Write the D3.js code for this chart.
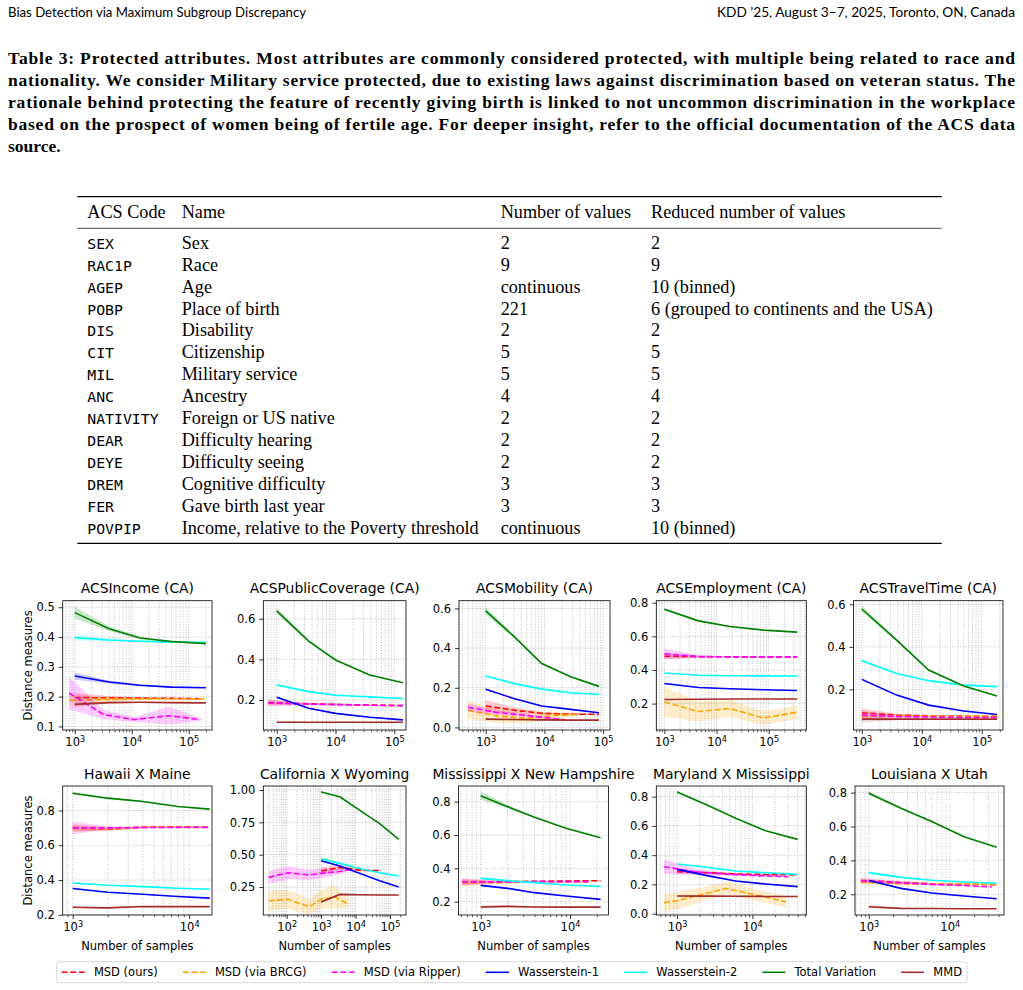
<!DOCTYPE html>
<html>
<head>
<meta charset="utf-8">
<script src="https://cdn.jsdelivr.net/npm/d3@7"></script>
<style>
  body { margin: 0; background: #fff; }
  svg { display: block; }
</style>
</head>
<body>
<svg id="page" width="1023" height="990"></svg>
<script>
// ---- page text ----
var runningLeft = "Bias Detection via Maximum Subgroup Discrepancy";
var runningRight = "KDD \u201925, August 3\u20137, 2025, Toronto, ON, Canada";

var captionLines = [
  "Table 3: Protected attributes. Most attributes are commonly considered protected, with multiple being related to race and",
  "nationality. We consider Military service protected, due to existing laws against discrimination based on veteran status. The",
  "rationale behind protecting the feature of recently giving birth is linked to not uncommon discrimination in the workplace",
  "based on the prospect of women being of fertile age. For deeper insight, refer to the official documentation of the ACS data",
  "source."
];

// ---- table ----
var tableHeader = ["ACS Code", "Name", "Number of values", "Reduced number of values"];
var acsCodes = ["SEX", "RAC1P", "AGEP", "POBP", "DIS", "CIT", "MIL", "ANC", "NATIVITY", "DEAR", "DEYE", "DREM", "FER", "POVPIP"];
var acsNames = ["Sex", "Race", "Age", "Place of birth", "Disability", "Citizenship", "Military service", "Ancestry",
  "Foreign or US native", "Difficulty hearing", "Difficulty seeing", "Cognitive difficulty", "Gave birth last year",
  "Income, relative to the Poverty threshold"];
var numValues = ["2", "9", "continuous", "221", "2", "5", "5", "4", "2", "2", "2", "3", "3", "continuous"];
var reducedValues = ["2", "9", "10 (binned)", "6 (grouped to continents and the USA)", "2", "5", "5", "4", "2", "2", "2", "3", "3", "10 (binned)"];

// ---- chart legend ----
var methods = ["msd", "brcg", "ripper", "w1", "w2", "tv", "mmd"];
var methodLabels = ["MSD (ours)", "MSD (via BRCG)", "MSD (via Ripper)", "Wasserstein-1", "Wasserstein-2", "Total Variation", "MMD"];
var methodColors = ["red", "orange", "magenta", "blue", "cyan", "green", "brown"];
var methodDashed = [true, true, true, false, false, false, false];

var panelTitles = ["ACSIncome (CA)", "ACSPublicCoverage (CA)", "ACSMobility (CA)", "ACSEmployment (CA)", "ACSTravelTime (CA)",
  "Hawaii X Maine", "California X Wyoming", "Mississippi X New Hampshire", "Maryland X Mississippi", "Louisiana X Utah"];

var yTickValues = [
  [0.1, 0.2, 0.3, 0.4, 0.5], [0.2, 0.4, 0.6], [0.0, 0.2, 0.4, 0.6], [0.2, 0.4, 0.6, 0.8], [0.2, 0.4, 0.6],
  [0.2, 0.4, 0.6, 0.8], [0.25, 0.5, 0.75, 1.0], [0.2, 0.4, 0.6, 0.8], [0.0, 0.2, 0.4, 0.6, 0.8], [0.2, 0.4, 0.6, 0.8]
];
var yTickFormats = [".1f", ".1f", ".1f", ".1f", ".1f", ".1f", ".2f", ".1f", ".1f", ".1f"];

// each row: method, number of samples, mean distance, half width of the shaded band
var incomeCA = [
  ["msd",    [1000, 4000, 14000, 50000, 180000], [0.197, 0.196, 0.195, 0.194, 0.193], [0.015, 0.006, 0.003, 0.002, 0.001]],
  ["brcg",   [800, 3200, 11000, 45000, 200000],  [0.188, 0.190, 0.192, 0.193, 0.193], [0.020, 0.010, 0.005, 0.003, 0.002]],
  ["ripper", [800, 3200, 11000, 45000, 160000],  [0.212, 0.140, 0.123, 0.136, 0.123], [0.055, 0.015, 0.008, 0.030, 0.005]],
  ["w1",     [1000, 4000, 14000, 50000, 200000], [0.269, 0.249, 0.238, 0.232, 0.230], [0.012, 0.005, 0.003, 0.002, 0.001]],
  ["w2",     [1000, 4000, 14000, 50000, 200000], [0.398, 0.390, 0.386, 0.383, 0.382], [0.010, 0.004, 0.002, 0.002, 0.001]],
  ["tv",     [1000, 4000, 14000, 50000, 200000], [0.482, 0.428, 0.397, 0.385, 0.378], [0.020, 0.008, 0.004, 0.003, 0.002]],
  ["mmd",    [1000, 4000, 14000, 50000, 200000], [0.174, 0.180, 0.181, 0.180, 0.179], [0.008, 0.004, 0.002, 0.002, 0.001]]
];
var publicCoverageCA = [
  ["msd",    [720, 2500, 10000, 38000, 140000],  [0.187, 0.182, 0.178, 0.175, 0.172], [0.015, 0.006, 0.004, 0.002, 0.001]],
  ["ripper", [720, 2500, 10000, 38000, 140000],  [0.185, 0.180, 0.177, 0.174, 0.172], [0.015, 0.006, 0.004, 0.002, 0.001]],
  ["w1",     [1000, 3500, 10000, 38000, 140000], [0.213, 0.159, 0.134, 0.115, 0.102], [0.006, 0.003, 0.002, 0.001, 0.001]],
  ["w2",     [1000, 3500, 10000, 38000, 140000], [0.274, 0.241, 0.223, 0.215, 0.207], [0.005, 0.003, 0.002, 0.001, 0.001]],
  ["tv",     [1000, 3500, 10000, 38000, 140000], [0.639, 0.490, 0.397, 0.323, 0.285], [0.015, 0.006, 0.004, 0.003, 0.002]],
  ["mmd",    [1000, 3500, 10000, 38000, 140000], [0.090, 0.090, 0.090, 0.090, 0.090], [0.004, 0.002, 0.001, 0.001, 0.001]]
];
var mobilityCA = [
  ["msd",    [1000, 3000, 9000, 28000, 85000],   [0.108, 0.087, 0.071, 0.067, 0.066], [0.030, 0.015, 0.008, 0.005, 0.003]],
  ["brcg",   [500, 1500, 5000, 15000, 40000],    [0.087, 0.058, 0.045, 0.060, 0.066], [0.045, 0.035, 0.025, 0.015, 0.008]],
  ["ripper", [500, 1500, 5000, 22000],           [0.102, 0.076, 0.060, 0.038], [0.020, 0.012, 0.008, 0.005]],
  ["w1",     [1000, 3000, 9000, 28000, 85000],   [0.193, 0.146, 0.108, 0.091, 0.074], [0.005, 0.003, 0.002, 0.001, 0.001]],
  ["w2",     [1000, 3000, 9000, 28000, 85000],   [0.259, 0.222, 0.193, 0.175, 0.166], [0.005, 0.003, 0.002, 0.001, 0.001]],
  ["tv",     [1000, 3000, 9000, 28000, 85000],   [0.588, 0.460, 0.322, 0.255, 0.207], [0.020, 0.006, 0.004, 0.003, 0.002]],
  ["mmd",    [1000, 3000, 9000, 28000, 85000],   [0.042, 0.040, 0.038, 0.037, 0.037], [0.006, 0.003, 0.002, 0.001, 0.001]]
];
var employmentCA = [
  ["msd",    [1000, 4500, 18000, 80000, 350000], [0.482, 0.479, 0.478, 0.478, 0.478], [0.020, 0.006, 0.003, 0.002, 0.001]],
  ["brcg",   [1000, 4500, 18000, 80000, 350000], [0.210, 0.153, 0.171, 0.114, 0.149], [0.090, 0.060, 0.050, 0.040, 0.040]],
  ["ripper", [1000, 4500, 18000, 80000, 350000], [0.496, 0.480, 0.478, 0.478, 0.478], [0.030, 0.008, 0.003, 0.002, 0.001]],
  ["w1",     [1000, 4500, 18000, 80000, 350000], [0.320, 0.296, 0.288, 0.282, 0.278], [0.004, 0.002, 0.001, 0.001, 0.001]],
  ["w2",     [1000, 4500, 18000, 80000, 350000], [0.382, 0.369, 0.366, 0.365, 0.364], [0.004, 0.002, 0.001, 0.001, 0.001]],
  ["tv",     [1000, 4500, 18000, 80000, 350000], [0.761, 0.692, 0.659, 0.637, 0.625], [0.008, 0.004, 0.002, 0.001, 0.001]],
  ["mmd",    [1000, 4500, 18000, 80000, 350000], [0.224, 0.226, 0.227, 0.227, 0.227], [0.004, 0.002, 0.001, 0.001, 0.001]]
];
var travelTimeCA = [
  ["msd",    [1000, 3800, 13000, 50000, 180000], [0.090, 0.079, 0.076, 0.074, 0.073], [0.020, 0.006, 0.003, 0.002, 0.001]],
  ["brcg",   [1000, 3800, 13000, 50000, 180000], [0.075, 0.074, 0.074, 0.075, 0.075], [0.020, 0.006, 0.003, 0.002, 0.001]],
  ["ripper", [1000, 3800, 13000, 50000, 180000], [0.080, 0.072, 0.070, 0.068, 0.068], [0.020, 0.006, 0.003, 0.002, 0.001]],
  ["w1",     [1000, 3800, 13000, 50000, 180000], [0.247, 0.173, 0.126, 0.098, 0.082], [0.006, 0.003, 0.002, 0.001, 0.001]],
  ["w2",     [1000, 3800, 13000, 50000, 180000], [0.335, 0.275, 0.241, 0.220, 0.213], [0.005, 0.003, 0.002, 0.001, 0.001]],
  ["tv",     [1000, 3800, 13000, 50000, 180000], [0.578, 0.432, 0.291, 0.216, 0.169], [0.015, 0.006, 0.004, 0.002, 0.002]],
  ["mmd",    [1000, 3800, 13000, 50000, 180000], [0.060, 0.060, 0.060, 0.060, 0.060], [0.015, 0.005, 0.002, 0.001, 0.001]]
];
var hawaiiMaine = [
  ["msd",    [1000, 2000, 4000, 8000, 15000], [0.699, 0.693, 0.704, 0.706, 0.705], [0.020, 0.010, 0.005, 0.003, 0.002]],
  ["brcg",   [1000, 2000, 4000, 8000, 15000], [0.698, 0.695, 0.703, 0.705, 0.705], [0.020, 0.010, 0.005, 0.003, 0.002]],
  ["ripper", [1000, 2000, 4000, 8000, 15000], [0.700, 0.700, 0.702, 0.703, 0.703], [0.035, 0.010, 0.005, 0.003, 0.002]],
  ["w1",     [1000, 2000, 4000, 8000, 15000], [0.351, 0.330, 0.318, 0.305, 0.296], [0.004, 0.003, 0.002, 0.001, 0.001]],
  ["w2",     [1000, 2000, 4000, 8000, 15000], [0.383, 0.370, 0.362, 0.353, 0.347], [0.004, 0.003, 0.002, 0.001, 0.001]],
  ["tv",     [1000, 2000, 4000, 8000, 15000], [0.899, 0.871, 0.852, 0.823, 0.808], [0.008, 0.006, 0.004, 0.002, 0.002]],
  ["mmd",    [1000, 2000, 4000, 8000, 15000], [0.244, 0.240, 0.248, 0.247, 0.247], [0.004, 0.003, 0.002, 0.001, 0.001]]
];
var californiaWyoming = [
  ["msd",    [1000, 3500, 13000, 55000],           [0.374, 0.402, 0.381, 0.376], [0.030, 0.020, 0.010, 0.005]],
  ["brcg",   [30, 110, 450, 1000, 2500, 6000],     [0.144, 0.155, 0.098, 0.155, 0.175, 0.119], [0.080, 0.070, 0.060, 0.070, 0.090, 0.030]],
  ["ripper", [30, 110, 450, 1000, 3500, 7000],     [0.325, 0.360, 0.343, 0.356, 0.370, 0.386], [0.050, 0.050, 0.040, 0.040, 0.020, 0.010]],
  ["w1",     [1000, 3500, 13000, 50000, 180000],   [0.454, 0.412, 0.356, 0.299, 0.250], [0.006, 0.004, 0.003, 0.002, 0.001]],
  ["w2",     [1000, 3500, 13000, 50000, 180000],   [0.469, 0.433, 0.394, 0.361, 0.335], [0.006, 0.004, 0.003, 0.002, 0.001]],
  ["tv",     [1000, 3500, 13000, 50000, 180000],   [0.984, 0.948, 0.845, 0.740, 0.619], [0.006, 0.004, 0.003, 0.002, 0.001]],
  ["mmd",    [1000, 3500, 13000, 50000, 180000],   [0.134, 0.193, 0.190, 0.189, 0.188], [0.006, 0.004, 0.002, 0.001, 0.001]]
];
var mississippiNewHampshire = [
  ["msd",    [620, 1500, 4000, 9000, 22000],  [0.318, 0.320, 0.322, 0.324, 0.326], [0.020, 0.008, 0.004, 0.003, 0.002]],
  ["brcg",   [620, 1500, 4000, 9000, 16000],  [0.312, 0.314, 0.318, 0.318, 0.318], [0.020, 0.008, 0.004, 0.003, 0.002]],
  ["ripper", [620, 1500, 4000, 9000, 16000],  [0.318, 0.318, 0.320, 0.320, 0.320], [0.020, 0.008, 0.004, 0.003, 0.002]],
  ["w1",     [1000, 2000, 4000, 9000, 22000], [0.298, 0.280, 0.254, 0.234, 0.214], [0.006, 0.004, 0.003, 0.002, 0.001]],
  ["w2",     [1000, 2000, 4000, 9000, 22000], [0.340, 0.326, 0.314, 0.300, 0.292], [0.006, 0.004, 0.003, 0.002, 0.001]],
  ["tv",     [1000, 2000, 4000, 9000, 22000], [0.836, 0.770, 0.706, 0.640, 0.584], [0.025, 0.010, 0.004, 0.003, 0.002]],
  ["mmd",    [1000, 2000, 4000, 9000, 22000], [0.168, 0.172, 0.168, 0.167, 0.167], [0.010, 0.005, 0.002, 0.001, 0.001]]
];
var marylandMississippi = [
  ["msd",    [1000, 2500, 6000, 15000, 40000], [0.287, 0.280, 0.272, 0.268, 0.265], [0.015, 0.008, 0.004, 0.003, 0.002]],
  ["brcg",   [670, 1000, 4500, 28000],         [0.075, 0.089, 0.173, 0.082], [0.060, 0.060, 0.040, 0.040]],
  ["ripper", [670, 1800, 4500, 12000, 30000],  [0.321, 0.285, 0.270, 0.260, 0.253], [0.050, 0.020, 0.010, 0.008, 0.006]],
  ["w1",     [1000, 2500, 6000, 15000, 40000], [0.303, 0.260, 0.223, 0.203, 0.185], [0.006, 0.004, 0.003, 0.002, 0.001]],
  ["w2",     [1000, 2500, 6000, 15000, 40000], [0.340, 0.317, 0.292, 0.280, 0.269], [0.006, 0.004, 0.003, 0.002, 0.001]],
  ["tv",     [1000, 2500, 6000, 15000, 40000], [0.832, 0.743, 0.652, 0.567, 0.508], [0.008, 0.005, 0.003, 0.002, 0.002]],
  ["mmd",    [1000, 2500, 6000, 15000, 40000], [0.121, 0.120, 0.119, 0.118, 0.118], [0.006, 0.004, 0.002, 0.001, 0.001]]
];
var louisianaUtah = [
  ["msd",    [800, 2500, 6000, 15000, 38000],  [0.281, 0.270, 0.262, 0.259, 0.257], [0.015, 0.008, 0.004, 0.003, 0.002]],
  ["brcg",   [800, 2500, 6000, 15000, 38000],  [0.272, 0.262, 0.260, 0.260, 0.260], [0.015, 0.008, 0.004, 0.003, 0.002]],
  ["ripper", [800, 2500, 6000, 15000, 33000],  [0.280, 0.268, 0.258, 0.252, 0.243], [0.012, 0.008, 0.004, 0.003, 0.002]],
  ["w1",     [1000, 2500, 6000, 15000, 38000], [0.281, 0.235, 0.208, 0.190, 0.174], [0.006, 0.004, 0.003, 0.002, 0.001]],
  ["w2",     [1000, 2500, 6000, 15000, 38000], [0.328, 0.300, 0.283, 0.273, 0.265], [0.006, 0.004, 0.003, 0.002, 0.001]],
  ["tv",     [1000, 2500, 6000, 15000, 38000], [0.796, 0.708, 0.629, 0.540, 0.477], [0.012, 0.006, 0.004, 0.003, 0.002]],
  ["mmd",    [1000, 2500, 6000, 15000, 38000], [0.127, 0.117, 0.116, 0.115, 0.115], [0.008, 0.004, 0.002, 0.001, 0.001]]
];

var panels = [incomeCA, publicCoverageCA, mobilityCA, employmentCA, travelTimeCA,
  hawaiiMaine, californiaWyoming, mississippiNewHampshire, marylandMississippi, louisianaUtah];

// ---- layout (pixel boxes and axis extents of each subplot) ----
var panelBoxes = [
  [62.7, 212, 600.7, 730], [263.3, 406, 600.7, 730], [459, 610, 600.7, 730], [656.3, 806.3, 600.7, 730], [853.5, 1003, 600.7, 730],
  [62.7, 212, 786, 915], [263.3, 406, 786, 915], [458.5, 608.5, 786, 915], [656.3, 806.3, 786, 915], [855, 1004, 786, 915]
];
var xDomains = [[615, 256000], [592, 158000], [351, 131000], [700, 525000], [725, 226000],
  [821, 15700], [20.9, 292000], [564, 27000], [530, 52000], [676, 46800]];
var yDomains = [[0.088, 0.522], [0.052, 0.689], [-0.013, 0.639], [0.043, 0.812], [0.009, 0.617],
  [0.199, 0.941], [0.034, 1.031], [0.12, 0.894], [-0.009, 0.873], [0.078, 0.839]];

var svg = d3.select("#page");
var MPL = "'DejaVu Sans', sans-serif";
var fs = 11.5;

// running head
svg.append("text").attr("x", 8).attr("y", 16.5)
  .attr("font-family", "Lato, sans-serif").attr("font-size", 12.5)
  .attr("textLength", 298).attr("lengthAdjust", "spacingAndGlyphs")
  .text(runningLeft);
svg.append("text").attr("x", 1015).attr("y", 16.5).attr("text-anchor", "end")
  .attr("font-family", "Lato, sans-serif").attr("font-size", 12.5)
  .attr("textLength", 298).attr("lengthAdjust", "spacingAndGlyphs")
  .text(runningRight);

// caption, justified
captionLines.forEach(function(line, i) {
  var t = svg.append("text").attr("x", 8).attr("y", 63.5 + i * 22.2)
    .attr("font-family", "'Liberation Serif', serif").attr("font-weight", "bold").attr("font-size", 17.5)
    .text(line);
  if (i < captionLines.length - 1) t.attr("textLength", 1007).attr("lengthAdjust", "spacing");
});

// table
var colX = [87.3, 181.7, 500.7, 651];
var tbl = svg.append("g").attr("font-family", "'Liberation Serif', serif").attr("font-size", 18.2);
tbl.append("line").attr("x1", 77.3).attr("x2", 941.7).attr("y1", 196.7).attr("y2", 196.7).attr("stroke", "#000").attr("stroke-width", 1.3);
tbl.append("line").attr("x1", 77.3).attr("x2", 941.7).attr("y1", 228.3).attr("y2", 228.3).attr("stroke", "#000").attr("stroke-width", 0.7);
tbl.append("line").attr("x1", 77.3).attr("x2", 941.7).attr("y1", 543.3).attr("y2", 543.3).attr("stroke", "#000").attr("stroke-width", 1.3);
tableHeader.forEach(function(h, j) {
  tbl.append("text").attr("x", colX[j]).attr("y", 218.3).text(h);
});
var rowY = d3.scaleLinear().domain([0, acsCodes.length - 1]).range([243.3, 528]);
acsCodes.forEach(function(c, i) {
  var yy = rowY(i) + 5.5;
  tbl.append("text").attr("x", colX[0]).attr("y", yy)
    .attr("font-family", "'DejaVu Sans Mono', monospace").attr("font-size", 14.8).text(c);
  tbl.append("text").attr("x", colX[1]).attr("y", yy).text(acsNames[i]);
  tbl.append("text").attr("x", colX[2]).attr("y", yy).text(numValues[i]);
  tbl.append("text").attr("x", colX[3]).attr("y", yy).text(reducedValues[i]);
});

// small multiples
var lw = 1.6, dash = "6,2.6";
panels.forEach(function(series, i) {
  var b = panelBoxes[i];
  var x = d3.scaleLog().domain(xDomains[i]).range([b[0], b[1]]);
  var y = d3.scaleLinear().domain(yDomains[i]).range([b[3], b[2]]);
  var g = svg.append("g");

  svg.append("clipPath").attr("id", "clip" + i).append("rect")
    .attr("x", b[0]).attr("y", b[2]).attr("width", b[1] - b[0]).attr("height", b[3] - b[2]);

  // log ticks
  var lo = xDomains[i][0], hi = xDomains[i][1];
  var major = [], minor = [];
  for (var k = Math.floor(Math.log10(lo)); k <= Math.ceil(Math.log10(hi)); k++) {
    for (var m = 1; m < 10; m++) {
      var v = m * Math.pow(10, k);
      if (v >= lo && v <= hi) (m === 1 ? major : minor).push(v);
    }
  }

  // grid
  var grid = g.append("g").attr("stroke", "#b0b0b0").attr("stroke-width", 0.8).attr("stroke-dasharray", "1,1.6");
  grid.selectAll("line.v").data(major.concat(minor)).enter().append("line")
    .attr("x1", d => x(d)).attr("x2", d => x(d)).attr("y1", b[2]).attr("y2", b[3]);
  grid.selectAll("line.h").data(yTickValues[i]).enter().append("line")
    .attr("x1", b[0]).attr("x2", b[1]).attr("y1", d => y(d)).attr("y2", d => y(d));

  // bands and lines
  var plot = g.append("g").attr("clip-path", "url(#clip" + i + ")");
  series.forEach(function(s) {
    var mi = methods.indexOf(s[0]);
    var pts = s[1].map((n, j) => ({ n: n, v: s[2][j], e: s[3][j] }));
    var area = d3.area().x(d => x(d.n)).y0(d => y(d.v - d.e)).y1(d => y(d.v + d.e));
    var line = d3.line().x(d => x(d.n)).y(d => y(d.v));
    plot.append("path").datum(pts).attr("d", area)
      .attr("fill", methodColors[mi]).attr("fill-opacity", 0.2).attr("stroke", "none");
    plot.append("path").datum(pts).attr("d", line)
      .attr("fill", "none").attr("stroke", methodColors[mi]).attr("stroke-width", lw)
      .attr("stroke-dasharray", methodDashed[mi] ? dash : null);
  });

  // spines
  g.append("rect").attr("x", b[0]).attr("y", b[2]).attr("width", b[1] - b[0]).attr("height", b[3] - b[2])
    .attr("fill", "none").attr("stroke", "#000").attr("stroke-width", 0.8);

  // y axis
  var ya = g.append("g").attr("transform", "translate(" + b[0] + ",0)")
    .call(d3.axisLeft(y).tickValues(yTickValues[i]).tickSize(4).tickPadding(4).tickFormat(d3.format(yTickFormats[i])));
  ya.select(".domain").remove();
  ya.selectAll("text").attr("font-family", MPL).attr("font-size", fs).attr("fill", "#000");
  ya.selectAll("line").attr("stroke-width", 0.8);

  // x axis: minor then major
  var xm = g.append("g").attr("transform", "translate(0," + b[3] + ")")
    .call(d3.axisBottom(x).tickValues(minor).tickSize(2.3).tickFormat(""));
  xm.select(".domain").remove();
  xm.selectAll("line").attr("stroke-width", 0.6);
  var xa = g.append("g").attr("transform", "translate(0," + b[3] + ")")
    .call(d3.axisBottom(x).tickValues(major).tickSize(4).tickPadding(4).tickFormat(""));
  xa.select(".domain").remove();
  xa.selectAll("line").attr("stroke-width", 0.8);
  xa.selectAll(".tick text").attr("font-family", MPL).attr("font-size", fs).attr("fill", "#000")
    .each(function(d) {
      var t = d3.select(this);
      t.append("tspan").text("10");
      t.append("tspan").attr("dy", "-0.45em").attr("font-size", 8.2).text(Math.round(Math.log10(d)));
    });

  // title
  g.append("text").attr("x", (b[0] + b[1]) / 2).attr("y", b[2] - 7.5).attr("text-anchor", "middle")
    .attr("font-family", MPL).attr("font-size", 13.9).text(panelTitles[i]);

  if (i % 5 === 0) {
    var cy = (b[2] + b[3]) / 2;
    g.append("text").attr("transform", "translate(28," + cy + ") rotate(-90)").attr("text-anchor", "middle")
      .attr("dy", "0.35em").attr("font-family", MPL).attr("font-size", fs).text("Distance measures");
  }
  if (i >= 5) {
    g.append("text").attr("x", (b[0] + b[1]) / 2).attr("y", 950).attr("text-anchor", "middle")
      .attr("font-family", MPL).attr("font-size", fs).text("Number of samples");
  }
});

// legend: one row, spacing chosen so the frame runs from 56.7 to 967
var leg = svg.append("g");
var legBox = leg.append("rect").attr("x", 56.7).attr("y", 961.7).attr("width", 910.3).attr("height", 21).attr("rx", 2.5)
  .attr("fill", "#fff").attr("fill-opacity", 0.8).attr("stroke", "#cccccc").attr("stroke-width", 0.8);
var handle = 23, pad = 9.2, border = 5;
var items = methods.map(function(m, i) {
  var t = leg.append("text").attr("y", 972.3).attr("dy", "0.35em")
    .attr("font-family", MPL).attr("font-size", fs).text(methodLabels[i]);
  return { t: t, w: t.node().getComputedTextLength() };
});
var used = d3.sum(items, d => handle + pad + d.w);
var colGap = (910.3 - 2 * border - used) / (items.length - 1);
var lx = 56.7 + border;
items.forEach(function(it, i) {
  leg.append("line").attr("x1", lx).attr("x2", lx + handle).attr("y1", 972.3).attr("y2", 972.3)
    .attr("stroke", methodColors[i]).attr("stroke-width", lw)
    .attr("stroke-dasharray", methodDashed[i] ? dash : null);
  it.t.attr("x", lx + handle + pad);
  lx += handle + pad + it.w + colGap;
});
</script>
</body>
</html>
